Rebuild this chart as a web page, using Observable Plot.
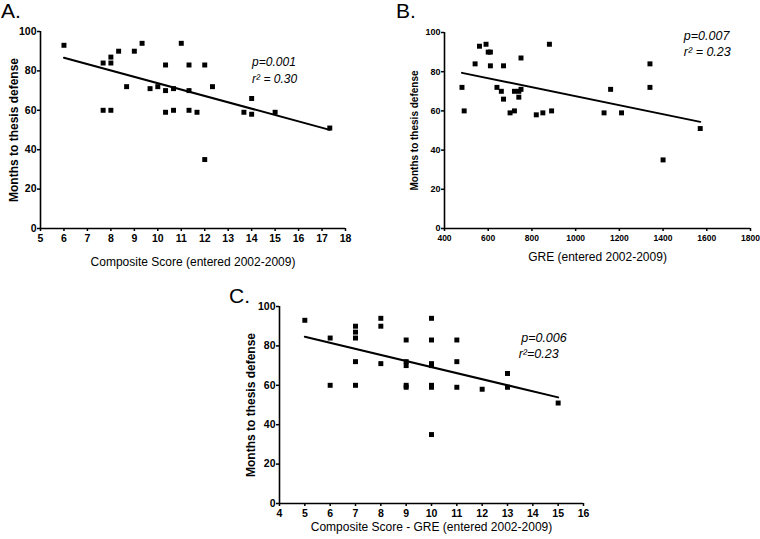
<!DOCTYPE html>
<html>
<head>
<meta charset="utf-8">
<script src="https://cdn.jsdelivr.net/npm/d3@7"></script>
<script src="https://cdn.jsdelivr.net/npm/@observablehq/plot@0.6"></script>
<style>
  html, body { margin: 0; padding: 0; background: #fff; }
  #wrap { position: relative; width: 760px; height: 539px; background: #fff; overflow: hidden;
          font-family: "Liberation Sans", Arial, sans-serif; }
  .panel { position: absolute; z-index: 1; }
  .plabel { position: absolute; font-size: 21px; line-height: 21px; color: #000; z-index: 2; }
</style>
</head>
<body>
<div id="wrap">
  <div class="panel" id="pa" style="left:0px;top:0px;"></div>
  <div class="panel" id="pb" style="left:380px;top:0px;"></div>
  <div class="panel" id="pc" style="left:190px;top:270px;"></div>
  <div class="plabel" style="left:1px;top:0px;">A.</div>
  <div class="plabel" style="left:396px;top:0px;">B.</div>
  <div class="plabel" style="left:229px;top:285px;">C.</div>
</div>
<script>
// ---- Data ----
const aX = [6,7.67,7.67,8,8,8,8.33,8.67,9,9.33,9.67,10,10.33,10.33,10.33,10.67,10.67,11,11.33,11.33,11.33,11.67,12,12,12.33,13.67,14,14,15,17.33];
const aY = [93,84,60,87,84,60,90,72,90,94,71,72,83,70,59,71,60,94,83,70,60,59,83,35,72,59,66,58,59,51];

const bX = [480,490,540,560,590,600,610,610,640,660,670,670,700,720,720,740,740,750,750,820,850,880,890,1130,1160,1210,1340,1340,1400,1570];
const bY = [72,60,84,93,94,90,90,83,72,70,83,66,59,60,70,70,67,71,87,58,59,94,60,59,71,59,84,72,35,51];

const cX = [5,6,6,7,7,7,7,7,8,8,8,9,9,9,9,9,10,10,10,10,10,10,10,11,11,11,12,13,13,15];
const cY = [93,84,60,90,87,84,72,60,94,90,71,83,72,70,60,59,94,83,71,70,60,59,35,83,72,59,58,66,59,51];

const yTicks = [0,20,40,60,80,100];
const aTicks = [5,6,7,8,9,10,11,12,13,14,15,16,17,18];
const bTicks = [400,600,800,1000,1200,1400,1600,1800];
const cTicks = [4,5,6,7,8,9,10,11,12,13,14,15,16];

const yTitle = "Months to thesis defense";
const aTitle = "Composite Score (entered 2002-2009)";
const bTitle = "GRE (entered 2002-2009)";
const cTitle = "Composite Score - GRE (entered 2002-2009)";

const aStats = ["p=0.001", "r\u00B2 = 0.30"];
const bStats = ["p=0.007", "r\u00B2 = 0.23"];
const cStats = ["p=0.006", "r\u00B2=0.23"];

const FONT = "Liberation Sans, Arial, sans-serif";

function panel(opts) {
  const data = opts.xs.map((x, i) => ({x, y: opts.ys[i]}));
  return Plot.plot({
    width: opts.width,
    height: opts.height,
    marginLeft: opts.ml,
    marginRight: opts.mr,
    marginTop: opts.mt,
    marginBottom: opts.mb,
    style: {fontFamily: FONT, fontSize: "10px", background: "transparent", overflow: "visible", color: "black"},
    x: {domain: opts.xDomain},
    y: {domain: [0, 100]},
    marks: [
      Plot.axisY({ticks: yTicks, tickSize: 3, tickPadding: 1, fontWeight: "bold", fontSize: opts.yTickSize, strokeWidth: 1.5, label: null, tickFormat: d => String(d)}),
      Plot.axisX({ticks: opts.xTicks, tickSize: 3, tickPadding: 3, fontWeight: "bold", fontSize: opts.xTickSize, strokeWidth: 1.5, label: null, tickFormat: d => String(d)}),
      Plot.ruleY([0], {stroke: "black", strokeWidth: 1.6}),
      Plot.ruleX([opts.xDomain[0]], {stroke: "black", strokeWidth: 1.6}),
      Plot.dot(data, {x: "x", y: "y", symbol: "square", r: 2.8, fill: "black", stroke: "none"}),
      Plot.linearRegressionY(data, {x: "x", y: "y", ci: 0, stroke: "black", strokeWidth: 2}),
      Plot.text([yTitle], {text: d => d, frameAnchor: "left", textAnchor: "middle", rotate: -90, dx: opts.yTitleDx, fontWeight: "bold", fontSize: opts.yTitleSize}),
      Plot.text([opts.xTitle], {text: d => d, frameAnchor: "bottom", textAnchor: "middle", dy: opts.xTitleDy, fontSize: 12}),
      Plot.text(opts.stats, {text: d => d, ...opts.statPos})
    ]
  });
}

document.getElementById("pa").appendChild(panel({
  xs: aX, ys: aY, xDomain: [5, 18], xTicks: aTicks,
  width: 380, height: 270, ml: 40, mr: 35, mt: 31, mb: 42,
  yTickSize: 10.5, xTickSize: 10.5, yTitleSize: 12, yTitleDx: -26, xTitle: aTitle, xTitleDy: 37,
  stats: aStats, statPos: {x: [14.02, 14.02], y: [84.3, 75.9], fontStyle: "italic", fontSize: 12, textAnchor: "start"}
}));

document.getElementById("pb").appendChild(panel({
  xs: bX, ys: bY, xDomain: [400, 1800], xTicks: bTicks,
  width: 380, height: 270, ml: 64, mr: 10, mt: 32, mb: 42,
  yTickSize: 9, xTickSize: 8.5, yTitleSize: 10, yTitleDx: -30, xTitle: bTitle, xTitleDy: 32,
  stats: bStats, statPos: {x: [1495, 1495], y: [98.3, 89.8], fontStyle: "italic", fontSize: 12.5, textAnchor: "start"}
}));

document.getElementById("pc").appendChild(panel({
  xs: cX, ys: cY, xDomain: [4, 16], xTicks: cTicks,
  width: 420, height: 269, ml: 89, mr: 27, mt: 36, mb: 36,
  yTickSize: 10.5, xTickSize: 10.5, yTitleSize: 12, yTitleDx: -28, xTitle: cTitle, xTitleDy: 27,
  stats: cStats, statPos: {x: [13.54, 13.44], y: [83.9, 76], fontStyle: "italic", fontSize: 12.5, textAnchor: "start"}
}));
</script>
</body>
</html>
